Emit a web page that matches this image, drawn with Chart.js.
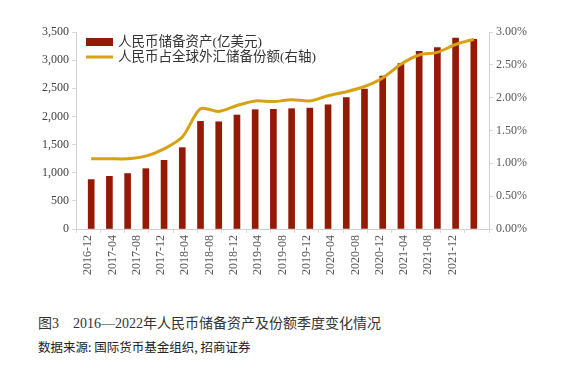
<!DOCTYPE html>
<html>
<head>
<meta charset="utf-8">
<script src="https://cdn.jsdelivr.net/npm/chart.js@4.4.0/dist/chart.umd.min.js"></script>
<style>
    body { margin: 0; background: #fff; width: 568px; height: 365px; position: relative; overflow: hidden; }
    #chart { position: absolute; left: 0; top: 0; }
    .caption { position: absolute; left: 38px; top: 312px; font: 14px "Liberation Serif", "Noto Sans CJK SC", serif; color: #333; white-space: pre; }
    .source { position: absolute; left: 38px; top: 337px; font: 12.5px "Noto Sans CJK SC", sans-serif; color: #222; white-space: pre; }
</style>
</head>
<body>
<canvas id="chart" width="568" height="300"></canvas>
<div class="caption">图3　2016—2022年人民币储备资产及份额季度变化情况</div>
<div class="source">数据来源: 国际货币基金组织, 招商证券</div>
<script>
const quarters = ["2016-12", "2017-03", "2017-06", "2017-09", "2017-12", "2018-03", "2018-06", "2018-09",
    "2018-12", "2019-03", "2019-06", "2019-09", "2019-12", "2020-03", "2020-06", "2020-09",
    "2020-12", "2021-03", "2021-06", "2021-09", "2021-12", "2022-03"];
const reserves = [878, 936, 985, 1072, 1220, 1445, 1912, 1905, 2025, 2120, 2126, 2138, 2148, 2207, 2335, 2485,
    2715, 2940, 3155, 3225, 3390, 3370];
const share = [1.07, 1.07, 1.07, 1.11, 1.22, 1.40, 1.83, 1.79, 1.88, 1.95, 1.94, 1.97, 1.95, 2.03, 2.09, 2.17,
    2.30, 2.51, 2.65, 2.69, 2.81, 2.89];
const tickLabels = ["2016-12", "2017-04", "2017-08", "2017-12", "2018-04", "2018-08", "2018-12", "2019-04",
    "2019-08", "2019-12", "2020-04", "2020-08", "2020-12", "2021-04", "2021-08", "2021-12"];
const seriesNames = ["人民币储备资产(亿美元)", "人民币占全球外汇储备份额(右轴)"];

// months since 2016-12, bar sits in the middle of its month
function monthPos(s) {
    const [y, m] = s.split("-").map(Number);
    return (y - 2016) * 12 + (m - 12) + 0.5;
}

const barColor = "#931b05";
const lineColor = "#d6a112";
const serif = "'Liberation Serif', 'Noto Sans CJK SC', serif";

// legend drawn inside the plot, stacked vertically
const innerLegend = {
    id: "innerLegend",
    afterDraw(chart) {
        const ctx = chart.ctx;
        const x = 86;
        ctx.save();
        ctx.fillStyle = barColor;
        ctx.fillRect(x, 38, 27, 8);
        ctx.strokeStyle = lineColor;
        ctx.lineWidth = 3;
        ctx.beginPath();
        ctx.moveTo(x, 57);
        ctx.lineTo(x + 27, 57);
        ctx.stroke();
        ctx.fillStyle = "#333";
        ctx.font = "13.5px " + serif;
        ctx.textBaseline = "middle";
        ctx.fillText(chart.data.datasets[0].label, x + 32, 42);
        ctx.fillText(chart.data.datasets[1].label, x + 32, 57);
        ctx.restore();
    }
};

document.addEventListener("DOMContentLoaded", function () {
    const ctx = document.getElementById("chart").getContext("2d");
    new Chart(ctx, {
        type: "bar",
        data: {
            datasets: [{
                label: seriesNames[0],
                data: quarters.map((q, i) => ({ x: monthPos(q), y: reserves[i] })),
                yAxisID: "y",
                backgroundColor: barColor,
                barThickness: 6,
                order: 1
            }, {
                type: "line",
                label: seriesNames[1],
                data: quarters.map((q, i) => ({ x: monthPos(q), y: share[i] })),
                yAxisID: "y2",
                borderColor: lineColor,
                borderWidth: 3,
                pointRadius: 0,
                tension: 0.3,
                order: 0
            }]
        },
        options: {
            responsive: false,
            animation: false,
            layout: { padding: { top: 32, left: 0, right: 0, bottom: 0 } },
            plugins: {
                legend: { display: false },
                tooltip: { enabled: false }
            },
            scales: {
                x: {
                    type: "linear",
                    min: 0,
                    max: 64,
                    afterFit: (s) => { s.height = 71; },
                    grid: { drawOnChartArea: false, tickLength: 4, color: "#d9d9d9" },
                    border: { color: "#d0d0d0" },
                    ticks: {
                        stepSize: 4,
                        autoSkip: false,
                        minRotation: 90,
                        maxRotation: 90,
                        padding: 2,
                        color: "#595959",
                        font: { family: serif, size: 12 },
                        callback: (v) => tickLabels[v / 4] || ""
                    }
                },
                y: {
                    position: "left",
                    min: 0,
                    max: 3500,
                    afterFit: (s) => { s.width = 76; },
                    grid: { drawOnChartArea: false, tickLength: 4, color: "#d9d9d9" },
                    border: { color: "#d0d0d0" },
                    ticks: {
                        stepSize: 500,
                        padding: 3,
                        color: "#404040",
                        font: { family: serif, size: 12 },
                        callback: (v) => v.toLocaleString("en-US")
                    }
                },
                y2: {
                    position: "right",
                    min: 0,
                    max: 3,
                    afterFit: (s) => { s.width = 79; },
                    grid: { drawOnChartArea: false, tickLength: 4, color: "#d9d9d9" },
                    border: { color: "#d0d0d0" },
                    ticks: {
                        stepSize: 0.5,
                        padding: 3,
                        color: "#595959",
                        font: { family: serif, size: 12 },
                        callback: (v) => v.toFixed(2) + "%"
                    }
                }
            }
        },
        plugins: [innerLegend]
    });
});
</script>
</body>
</html>
